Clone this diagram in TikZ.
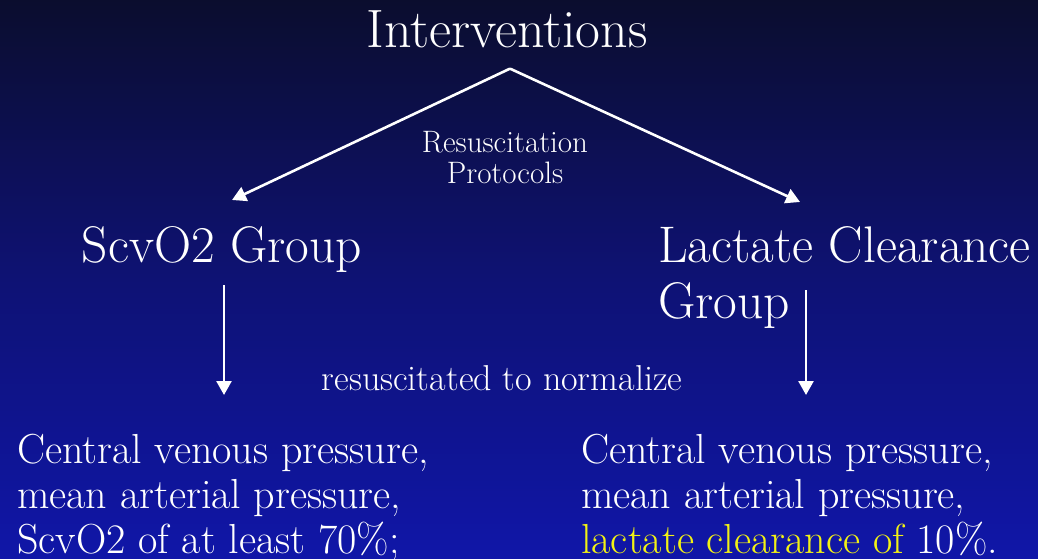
\documentclass[tikz,border=0pt]{standalone}
\usepackage{tikz}
\usetikzlibrary{arrows.meta,positioning,calc}
\definecolor{SlideTop}{RGB}{11,13,46}
\definecolor{SlideMid}{RGB}{14,18,116}
\definecolor{SlideBot}{RGB}{16,22,168}
\definecolor{SlideYellow}{RGB}{242,242,20}
\tikzset{
  title/.style={text=white, inner sep=0pt, anchor=base, font=\fontsize{54}{64}\selectfont},
  group/.style={text=white, inner sep=0pt, align=left, font=\fontsize{51.5}{56}\selectfont},
  proto/.style={text=white, inner sep=0pt, align=center, font=\fontsize{31}{32}\selectfont},
  note/.style={text=white, inner sep=0pt, anchor=base, font=\fontsize{36}{42}\selectfont},
  target/.style={text=white, inner sep=0pt, align=left, anchor=base west, font=\fontsize{42}{45}\selectfont},
  arrow/.style={-{Triangle[length=14pt, width=15pt]}, line width=2.6pt, draw=white}
}
\begin{document}
\begin{tikzpicture}[x=1pt, y=1pt]
  % background
  \shade[top color=SlideTop, bottom color=SlideBot, middle color=SlideMid]
    (0,0) rectangle (1038,558);
  \useasboundingbox (0,0) rectangle (1038,558);
  \node[title] (intv) at (507,510) {Interventions};
  \node[proto, anchor=base] (proto) at (505,374) {Resuscitation\\Protocols};
  \node[group, anchor=base] (scv) at (222,296) {ScvO2 Group};
  \node[group, anchor=base west] (lac) at (658,240) {Lactate Clearance\\Group};
  \node[note] (norm) at (502,168) {resuscitated to normalize};
  \node[target] (scvout) at (17,5)
    {Central venous pressure,\\mean arterial pressure,\\ScvO2 of at least 70\%;};
  \node[target] (lacout) at (581,5)
    {Central venous pressure,\\mean arterial pressure,\\{\color{SlideYellow}lactate clearance of} 10\%.};
  % connectors
  \coordinate (apex) at ([xshift=3pt, yshift=-20pt]intv.south);
  \coordinate (scvtip) at (232,358);
  \coordinate (lactip) at (800,356);
  \coordinate (scvend) at (224,163);
  \coordinate (lacend) at (806,163);
  \draw[arrow] (apex) -- (scvtip);
  \draw[arrow] (apex) -- (lactip);
  \draw[arrow] (scvend |- 0,273) -- (scvend);
  \draw[arrow] (lacend |- 0,268) -- (lacend);
\end{tikzpicture}
\end{document}
